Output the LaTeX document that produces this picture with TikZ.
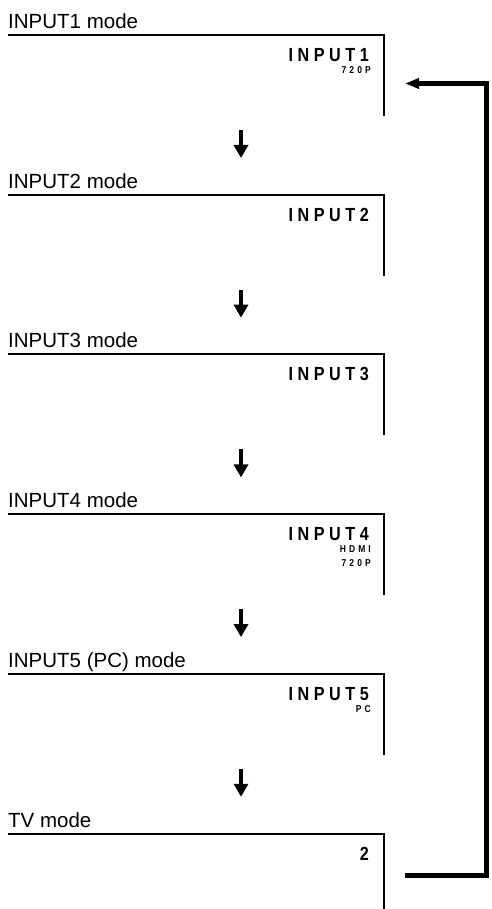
\documentclass[tikz,border=0pt]{standalone}
\usepackage{fontspec}
\setmainfont{Liberation Sans}
\newfontfamily\screenfont[LetterSpace=24, FakeStretch=0.85]{Liberation Sans}
\newfontfamily\subfont[LetterSpace=31, FakeStretch=0.85]{Liberation Sans}
\usetikzlibrary{arrows.meta}

\tikzset{
  mode title/.style={anchor=base west, inner sep=0pt, font=\fontsize{20.5}{20.5}\selectfont},
  screen main/.style={anchor=base east, inner sep=0pt, font=\screenfont\bfseries\fontsize{19}{19}\selectfont},
  screen sub/.style={anchor=base east, inner sep=0pt, font=\subfont\bfseries\fontsize{10}{10}\selectfont},
  panel/.style={line width=2pt},
  step arrow/.style={line width=4.5pt, -{Triangle[width=14pt,length=13pt]}},
  loop arrow/.style={line width=5pt, -{Triangle[width=10pt,length=14pt]}}
}

\begin{document}
\begin{tikzpicture}[x=1pt, y=-1pt]
  \useasboundingbox (0,0) rectangle (491,909);

  % mode panels
  \foreach \i/\ttl/\lab in {0/INPUT1 mode/INPUT1, 1/INPUT2 mode/INPUT2, 2/INPUT3 mode/INPUT3,
                            3/INPUT4 mode/INPUT4, 4/INPUT5 (PC) mode/INPUT5, 5/TV mode/2} {
    \pgfmathsetmacro\ly{35+159.7*\i}
    \pgfmathsetmacro\lb{min(\ly+81,909)}
    \node[mode title] (title\i) at (8,\ly-6.5) {\ttl};
    \draw[panel] (8,\ly) -- (384,\ly) -- (384,\lb);
    \node[screen main] (disp\i) at (369,\ly+26.5) {\lab};
  }

  % extra screen lines
  \node[screen sub] (res0) at (371,73.5) {720P};
  \node[screen sub] (port3) at (371,552.5) {HDMI};
  \node[screen sub] (res3) at (371,566) {720P};
  \node[screen sub] (port4) at (371,712.5) {PC};

  % step arrows
  \foreach \i in {0,...,4} {
    \pgfmathsetmacro\ly{35+159.7*\i}
    \coordinate (from\i) at (241,\ly+95);
    \coordinate (to\i) at (241,\ly+123);
    \draw[step arrow] (from\i) -- (to\i);
  }

  % return loop
  \coordinate (tvout) at (405,875.5);
  \coordinate (in0) at (405,83.5);
  \draw[loop arrow] (tvout) -- (486.5,875.5) |- (in0);
\end{tikzpicture}
\end{document}
